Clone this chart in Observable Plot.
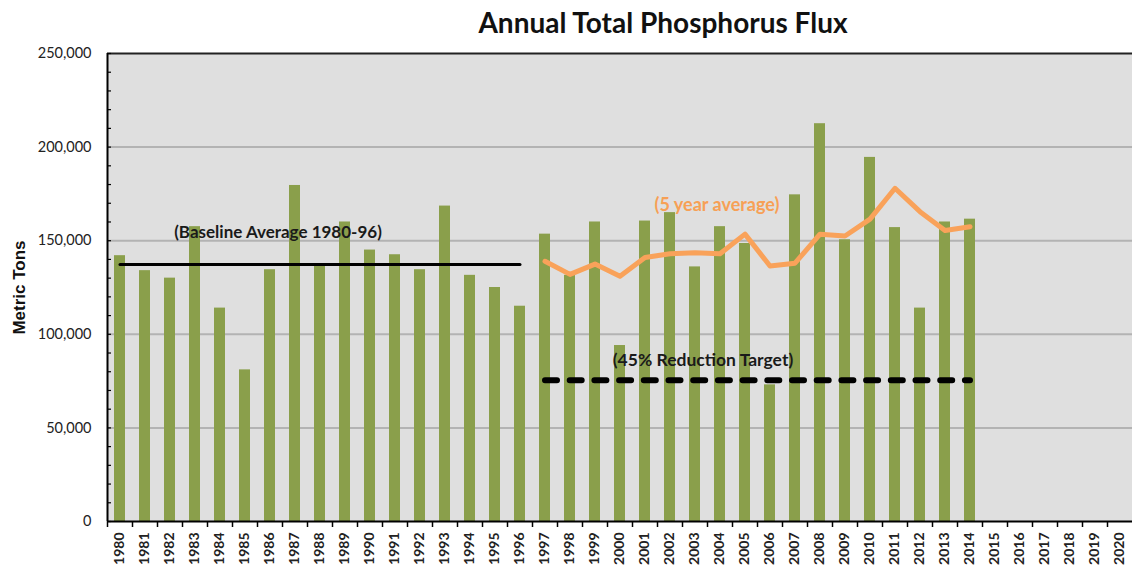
<!DOCTYPE html>
<html><head><meta charset="utf-8">
<script src="https://cdn.jsdelivr.net/npm/d3@7"></script>
<script src="https://cdn.jsdelivr.net/npm/@observablehq/plot@0.6"></script>
<style>
body{margin:0;background:#fff;font-family:Lato,"Open Sans",sans-serif;}
#title{height:44px;line-height:44px;font-weight:bold;font-size:28px;text-align:center;padding-left:194px;width:938px;color:#111;}
</style></head><body>
<div id="title">Annual Total Phosphorus Flux</div>
<div id="chart"></div>
<script>
const years = ["1980","1981","1982","1983","1984","1985","1986","1987","1988","1989","1990","1991","1992","1993","1994","1995","1996","1997","1998","1999","2000","2001","2002","2003","2004","2005","2006","2007","2008","2009","2010","2011","2012","2013","2014","2015","2016","2017","2018","2019","2020"];
const fluxYears = ["1980","1981","1982","1983","1984","1985","1986","1987","1988","1989","1990","1991","1992","1993","1994","1995","1996","1997","1998","1999","2000","2001","2002","2003","2004","2005","2006","2007","2008","2009","2010","2011","2012","2013","2014"];
const flux = [142000,134000,130000,157500,114000,81000,134500,179500,137000,160000,145000,142500,134500,168500,131500,125000,115000,153500,131500,160000,94000,160500,165000,136000,157500,148500,73000,174500,212500,150500,194500,157000,114000,160000,161500];
const avgYears = ["1997","1998","1999","2000","2001","2002","2003","2004","2005","2006","2007","2008","2009","2010","2011","2012","2013","2014"];
const avg5 = [139000,132000,137500,131000,141000,143000,143500,143000,153500,136500,138000,153500,152500,161500,178000,165500,155500,157500];
const baselineYears = ["1980","1996"];
const baselineValue = 137300;
const targetYears = ["1997","2014"];
const targetValue = 75500;
const yTicks = [0,50000,100000,150000,200000,250000];
const gridValues = [50000,100000,150000,200000];
const minorTicks = [0,10000,20000,30000,40000,50000,60000,70000,80000,90000,100000,110000,120000,130000,140000,150000,160000,170000,180000,190000,200000,210000,220000,230000,240000,250000];

const bars = fluxYears.map((y,i)=>({year:y, value:flux[i]}));
const avgData = avgYears.map((y,i)=>({year:y, value:avg5[i]}));
const baseData = baselineYears.map(y=>({year:y, value:baselineValue}));
const targetData = targetYears.map(y=>({year:y, value:targetValue}));

const plot = Plot.plot({
  width:1132, height:528, marginTop:9, marginBottom:51, marginLeft:107, marginRight:0,
  style:{fontFamily:"Lato, 'Open Sans', sans-serif", background:"transparent", color:"#222"},
  x:{type:"band", domain:years, paddingInner:0.57, paddingOuter:0.285, label:null},
  y:{domain:[0,250000], label:null},
  marks:[
    Plot.frame({fill:"#dfdfdf", stroke:"none"}),
    Plot.ruleY(gridValues, {stroke:"#b3b3b3", strokeWidth:2}),
    Plot.barY(bars, {x:"year", y:"value", fill:"#8a9f4b"}),
    Plot.line(baseData, {x:"year", y:"value", stroke:"#000", strokeWidth:3}),
    Plot.line(targetData, {x:"year", y:"value", stroke:"#000", strokeWidth:6, strokeDasharray:"12,12.7", strokeLinecap:"round"}),
    Plot.line(avgData, {x:"year", y:"value", stroke:"#f9a25a", strokeWidth:5, strokeLinejoin:"round"}),
    Plot.text(["(Baseline Average 1980-96)"], {x:()=>"1986", y:()=>154500, dx:8, fontWeight:"bold", fontSize:17, fill:"#1a1a1a"}),
    Plot.text(["(5 year average)"], {x:()=>"2004", y:()=>168800, dx:-3, fontWeight:"bold", fontSize:18, fill:"#f7a055"}),
    Plot.text(["(45% Reduction Target)"], {x:()=>"2003", y:()=>86000, dx:8, fontWeight:"bold", fontSize:17.5, fill:"#1a1a1a"}),
    Plot.ruleY([0], {stroke:"#000", strokeWidth:2}),
    Plot.ruleY([250000], {stroke:"#222", strokeWidth:2}),
    Plot.ruleX(["1980"], {dx:-12.5, stroke:"#000", strokeWidth:2}),
    Plot.ruleY(minorTicks, {stroke:"#000", strokeWidth:1.2, insetRight:1021}),
    Plot.ruleX(years, {x:d=>d, y1:0, y2:0, insetTop:6, dx:-12.5, stroke:"#000", strokeWidth:1.5}),
    Plot.axisY({ticks:yTicks, tickSize:0, tickPadding:16, tickFormat:d3.format(","), fontSize:14.5, label:null}),
    Plot.axisX({tickRotate:-90, tickSize:0, tickPadding:11, fontWeight:"bold", fontSize:14, label:null}),
    Plot.text(["Metric Tons"], {frameAnchor:"left", textAnchor:"middle", rotate:-90, dx:-88, fontWeight:"bold", fontSize:17, fontFamily:"'Liberation Sans', Arial, sans-serif", fill:"#111"})
  ]
});
document.getElementById("chart").appendChild(plot);
</script>
</body></html>
